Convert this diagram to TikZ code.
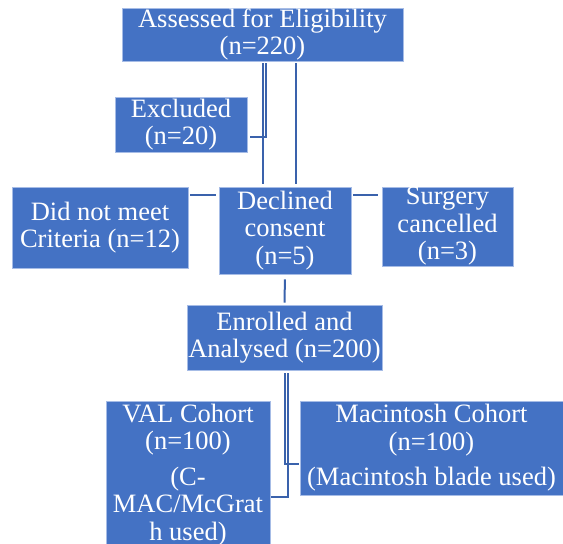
\documentclass[tikz,border=0pt]{standalone}
\usepackage{fontspec}
\setmainfont{Liberation Serif}
\usetikzlibrary{positioning}
\definecolor{boxblue}{HTML}{4472C4}
\definecolor{edgeblue}{HTML}{A6BCE6}
\definecolor{lineblue}{HTML}{3A62AC}

\begin{document}
\begin{tikzpicture}[x=1pt,y=-1pt,
  box/.style={rectangle,fill=boxblue,draw=edgeblue,line width=0.6pt,text=white,
    align=center,inner sep=0pt,font=\fontsize{26.5}{27.5}\selectfont},
  conn/.style={draw=lineblue,line width=2pt}]
\useasboundingbox (0,0) rectangle (563,544);
\clip (0,0) rectangle (563,544);

%Boxes
\node[box,minimum width=281pt,minimum height=53pt] (assess) at (262.5,34.5) {Assessed for Eligibility\\(n=220)};
\node[box,minimum width=132pt,minimum height=55pt] (excl) at (181,124.5) {Excluded\\(n=20)};
\node[box,minimum width=176pt,minimum height=81pt] (notmet) at (100,227.5) {Did not meet\\Criteria (n=12)};
\node[box,minimum width=132pt,minimum height=87pt] (decl) at (285,230.5) {Declined\\consent\\(n=5)};
\node[box,minimum width=131pt,minimum height=79pt] (surg) at (447.5,226.5) {Surgery\\cancelled\\(n=3)};
\node[box,minimum width=195pt,minimum height=65pt] (enrol) at (284.5,337.5) {Enrolled and\\Analysed (n=200)};
\node[box,minimum width=164pt,minimum height=148pt] (val) at (188,475) {VAL Cohort\\(n=100)\\[8pt](C-\\MAC/McGrat\\h used)};
\node[box,minimum width=263pt,minimum height=94pt] (mac) at (431.5,448) {Macintosh Cohort\\(n=100)\\[8pt](Macintosh blade used)};

%Connectors
\draw[conn,shorten <=2pt,shorten >=3pt] (assess.south) -- (assess.south |- decl.north);
\draw[conn,shorten <=2pt,shorten >=3pt] ([xshift=3pt]assess.south) |- ([yshift=-12.5pt]excl.east);
\draw[conn,shorten <=2pt,shorten >=3pt] ([xshift=11pt]decl.north |- assess.south) -- ([xshift=11pt]decl.north);
\draw[conn,shorten <=2pt,shorten >=3pt] ([yshift=-8pt]notmet.north east) -- ([yshift=-8pt]decl.north west);
\draw[conn,shorten <=2pt,shorten >=4pt] ([yshift=-8pt]decl.north east) -- ([yshift=-8pt]surg.north west);
\draw[conn,shorten <=5pt,shorten >=2pt] (decl.south) -- (enrol.north);
\draw[conn,shorten <=3pt,shorten >=1pt] (enrol.south) |- ([yshift=-63pt]mac.north west);
\draw[conn,shorten <=3pt,shorten >=1pt] ([xshift=3pt]enrol.south) |- ([yshift=-96pt]val.north east);

\end{tikzpicture}
\end{document}
